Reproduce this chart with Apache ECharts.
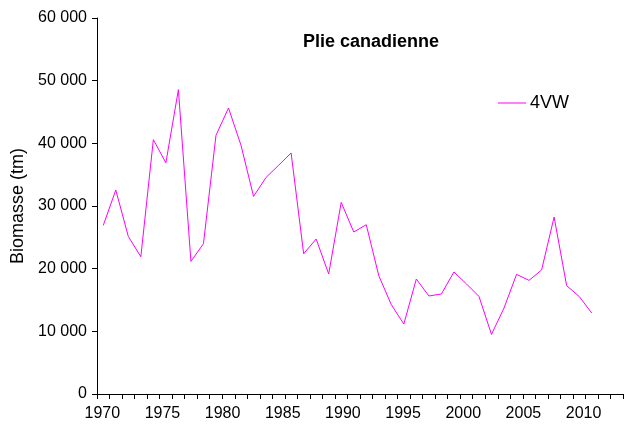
<!DOCTYPE html>
<html>
<head>
<meta charset="utf-8">
<script src="https://cdn.jsdelivr.net/npm/echarts@6/dist/echarts.min.js"></script>
<style>html,body{margin:0;padding:0;background:#fff}#c{width:626px;height:425px}</style>
</head>
<body>
<div id="c"></div>
<script>
// category slots of the data axis (one per year)
const axisYears = [1970,1971,1972,1973,1974,1975,1976,1977,1978,1979,1980,1981,1982,1983,1984,1985,1986,1987,1988,1989,1990,1991,1992,1993,1994,1995,1996,1997,1998,1999,2000,2001,2002,2003,2004,2005,2006,2007,2008,2009,2010,2011];
// biomass series 4VW (tm), 1970..2009
const biomass4VW = [26900,32550,25150,21900,40580,36900,48560,21160,23980,41270,45640,39670,31530,34560,36500,38460,22390,24730,19150,30580,25850,27010,18880,14250,11170,18350,15640,15960,19470,17570,15570,9510,13720,19090,18130,19790,28240,17280,15570,12930];
// tick labels shown under the axis
const xTickLabels = [1970,1975,1980,1985,1990,1995,2000,2005,2010];
const yTickLabels = [0,10000,20000,30000,40000,50000,60000];
const seriesName = '4VW';
const titleText = 'Plie canadienne';
const yAxisTitle = 'Biomasse (tm)';

const fmt = v => String(v).replace(/\B(?=(\d{3})+(?!\d))/g, ' ');
const font = 'Liberation Sans, Arial, sans-serif';
const chart = echarts.init(document.getElementById('c'), null, {renderer: 'canvas'});
chart.setOption({
  animation: false,
  backgroundColor: '#ffffff',
  textStyle: {fontFamily: font},
  title: {
    text: titleText, left: 366, top: 28, textAlign: 'center',
    textStyle: {fontFamily: font, fontSize: 18, fontWeight: 'bold', color: '#000'}
  },
  legend: {
    data: [{name: seriesName, icon: 'rect'}],
    left: 493, top: 89, itemWidth: 28, itemHeight: 1, itemGap: 4,
    textStyle: {fontFamily: font, fontSize: 18, color: '#000', padding: [0,0,0,-1]}
  },
  grid: {left: 97, right: 3, top: 18, bottom: 31, containLabel: false},
  xAxis: [{
    type: 'category', data: axisYears, boundaryGap: true,
    axisLine: {show: true, lineStyle: {color: '#000', width: 1}},
    axisTick: {show: true, interval: 0, length: 5, lineStyle: {color: '#000'}},
    axisLabel: {show: false},
    splitLine: {show: false}
  }, {
    type: 'value', min: 1969.56, max: 2013.28, position: 'bottom',
    axisLine: {show: false}, axisTick: {show: false}, splitLine: {show: false},
    axisLabel: {
      show: true, customValues: xTickLabels, margin: 12,
      fontFamily: font, fontSize: 16, color: '#000', formatter: v => String(Math.round(v))
    }
  }],
  yAxis: {
    type: 'value', min: 0, max: 60000, interval: 10000,
    name: yAxisTitle, nameLocation: 'middle', nameGap: 63,
    nameTextStyle: {fontFamily: font, fontSize: 18, color: '#000'},
    axisLine: {show: true, lineStyle: {color: '#000', width: 1}},
    axisTick: {show: true, length: 5, lineStyle: {color: '#000'}},
    axisLabel: {
      margin: 10, fontFamily: font, fontSize: 16, color: '#000',
      customValues: yTickLabels, formatter: v => fmt(v)
    },
    splitLine: {show: false}
  },
  series: [{
    name: seriesName, type: 'line', xAxisIndex: 0,
    data: biomass4VW, symbol: 'none', showSymbol: false,
    lineStyle: {color: '#FF00FF', width: 1},
    itemStyle: {color: '#FF00FF'}
  }]
});
</script>
</body>
</html>
